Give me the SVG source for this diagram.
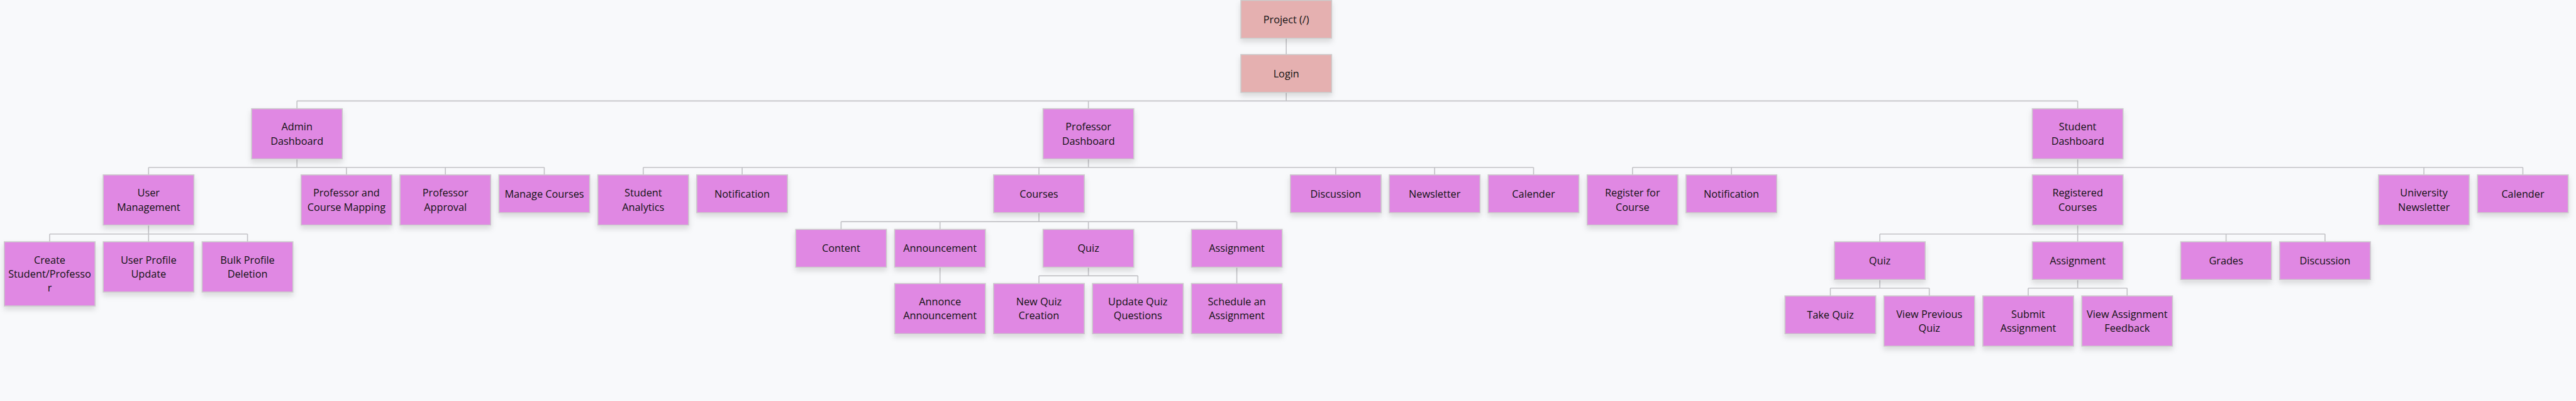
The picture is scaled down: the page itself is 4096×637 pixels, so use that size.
<svg xmlns="http://www.w3.org/2000/svg" width="4096" height="637" viewBox="0 0 4096 637">
<defs>
<filter id="sh" x="-20%" y="-20%" width="140%" height="160%">
<feDropShadow dx="0" dy="8" stdDeviation="7" flood-color="#000" flood-opacity="0.13"/>
</filter>
<style>
.n{fill:#e088e3;stroke:#cccccc;stroke-width:2.6;filter:url(#sh)}
.p{fill:#e5b0b0;stroke:#cccccc;stroke-width:2.6;filter:url(#sh)}
text{font-family:"Open Sans","Noto Sans","Liberation Sans",sans-serif;font-size:26.5px;fill:#111111;text-anchor:middle}
.c{fill:none;stroke:#c2c2c6;stroke-width:2.6}
</style>
</defs>
<rect width="4096" height="637" fill="#f8f9fb"/>
<g transform="scale(0.61446)">
<g id="connectors">
<path class="c" d="M3328.5 99V141M3328.5 239V261M768.5 261H5376.5M768.5 261V281M2816.5 261V281M5376.5 261V281
M768.5 411V433M384.5 433H1408.5M384.5 433V452M896.5 433V452M1152.5 433V452M1408.5 433V452
M2816.5 411V433M1664.5 433H3968.5M1664.5 433V452M1920.5 433V452M2688.5 433V452M3456.5 433V452M3712.5 433V452M3968.5 433V452
M5376.5 411V433M4224.5 433H6528.5M4224.5 433V452M4480.5 433V452M5376.5 433V452M6272.5 433V452M6528.5 433V452
M384.5 582V605M128.5 605H640.5M128.5 605V625M384.5 605V625M640.5 605V625
M2688.5 550V573M2176.5 573H3200.5M2176.5 573V593M2432.5 573V593M2816.5 573V593M3200.5 573V593
M2432.5 691V733M3200.5 691V733
M2816.5 691V713M2688.5 713H2944.5M2688.5 713V733M2944.5 713V733
M5376.5 582V605M4864.5 605H6016.5M4864.5 605V625M5376.5 605V625M5760.5 605V625M6016.5 605V625
M4864.5 723V745M4736.5 745H4992.5M4736.5 745V765M4992.5 745V765
M5376.5 723V745M5248.5 745H5504.5M5248.5 745V765M5504.5 745V765"/>
</g>
<g id="project"><rect class="p" x="3211" y="1" width="235" height="98"/><text x="3328.5" y="60">Project (/)</text></g>
<g id="login"><rect class="p" x="3211" y="141" width="235" height="98"/><text x="3328.5" y="200">Login</text></g>
<g id="admin-dashboard"><rect class="n" x="651" y="281" width="235" height="130"/><text x="768.5" y="337.5">Admin</text><text x="768.5" y="373.5">Dashboard</text></g>
<g id="professor-dashboard"><rect class="n" x="2699" y="281" width="235" height="130"/><text x="2816.5" y="337.5">Professor</text><text x="2816.5" y="373.5">Dashboard</text></g>
<g id="student-dashboard"><rect class="n" x="5259" y="281" width="235" height="130"/><text x="5376.5" y="337.5">Student</text><text x="5376.5" y="373.5">Dashboard</text></g>
<g id="user-management"><rect class="n" x="267" y="452" width="235" height="130"/><text x="384.5" y="508.5">User</text><text x="384.5" y="544.5">Management</text></g>
<g id="professor-course-mapping"><rect class="n" x="779" y="452" width="235" height="130"/><text x="896.5" y="508.5">Professor and</text><text x="896.5" y="544.5">Course Mapping</text></g>
<g id="professor-approval"><rect class="n" x="1035" y="452" width="235" height="130"/><text x="1152.5" y="508.5">Professor</text><text x="1152.5" y="544.5">Approval</text></g>
<g id="manage-courses"><rect class="n" x="1291" y="452" width="235" height="98"/><text x="1408.5" y="510.5">Manage Courses</text></g>
<g id="student-analytics"><rect class="n" x="1547" y="452" width="235" height="130"/><text x="1664.5" y="508.5">Student</text><text x="1664.5" y="544.5">Analytics</text></g>
<g id="prof-notification"><rect class="n" x="1803" y="452" width="235" height="98"/><text x="1920.5" y="510.5">Notification</text></g>
<g id="courses"><rect class="n" x="2571" y="452" width="235" height="98"/><text x="2688.5" y="510.5">Courses</text></g>
<g id="prof-discussion"><rect class="n" x="3339" y="452" width="235" height="98"/><text x="3456.5" y="510.5">Discussion</text></g>
<g id="prof-newsletter"><rect class="n" x="3595" y="452" width="235" height="98"/><text x="3712.5" y="510.5">Newsletter</text></g>
<g id="prof-calender"><rect class="n" x="3851" y="452" width="235" height="98"/><text x="3968.5" y="510.5">Calender</text></g>
<g id="register-course"><rect class="n" x="4107" y="452" width="235" height="130"/><text x="4224.5" y="508.5">Register for</text><text x="4224.5" y="544.5">Course</text></g>
<g id="stud-notification"><rect class="n" x="4363" y="452" width="235" height="98"/><text x="4480.5" y="510.5">Notification</text></g>
<g id="registered-courses"><rect class="n" x="5259" y="452" width="235" height="130"/><text x="5376.5" y="508.5">Registered</text><text x="5376.5" y="544.5">Courses</text></g>
<g id="university-newsletter"><rect class="n" x="6155" y="452" width="235" height="130"/><text x="6272.5" y="508.5">University</text><text x="6272.5" y="544.5">Newsletter</text></g>
<g id="stud-calender"><rect class="n" x="6411" y="452" width="235" height="98"/><text x="6528.5" y="510.5">Calender</text></g>
<g id="create-user"><rect class="n" x="11" y="625" width="235" height="166"/><text x="128.5" y="681.5">Create</text><text x="128.5" y="717.5">Student/Professo</text><text x="128.5" y="753.5">r</text></g>
<g id="user-profile-update"><rect class="n" x="267" y="625" width="235" height="130"/><text x="384.5" y="681.5">User Profile</text><text x="384.5" y="717.5">Update</text></g>
<g id="bulk-profile-deletion"><rect class="n" x="523" y="625" width="235" height="130"/><text x="640.5" y="681.5">Bulk Profile</text><text x="640.5" y="717.5">Deletion</text></g>
<g id="content"><rect class="n" x="2059" y="593" width="235" height="98"/><text x="2176.5" y="651.5">Content</text></g>
<g id="announcement"><rect class="n" x="2315" y="593" width="235" height="98"/><text x="2432.5" y="651.5">Announcement</text></g>
<g id="prof-quiz"><rect class="n" x="2699" y="593" width="235" height="98"/><text x="2816.5" y="651.5">Quiz</text></g>
<g id="prof-assignment"><rect class="n" x="3083" y="593" width="235" height="98"/><text x="3200.5" y="651.5">Assignment</text></g>
<g id="annonce-announcement"><rect class="n" x="2315" y="733" width="235" height="130"/><text x="2432.5" y="789.5">Annonce</text><text x="2432.5" y="825.5">Announcement</text></g>
<g id="new-quiz-creation"><rect class="n" x="2571" y="733" width="235" height="130"/><text x="2688.5" y="789.5">New Quiz</text><text x="2688.5" y="825.5">Creation</text></g>
<g id="update-quiz-questions"><rect class="n" x="2827" y="733" width="235" height="130"/><text x="2944.5" y="789.5">Update Quiz</text><text x="2944.5" y="825.5">Questions</text></g>
<g id="schedule-assignment"><rect class="n" x="3083" y="733" width="235" height="130"/><text x="3200.5" y="789.5">Schedule an</text><text x="3200.5" y="825.5">Assignment</text></g>
<g id="stud-quiz"><rect class="n" x="4747" y="625" width="235" height="98"/><text x="4864.5" y="683.5">Quiz</text></g>
<g id="stud-assignment"><rect class="n" x="5259" y="625" width="235" height="98"/><text x="5376.5" y="683.5">Assignment</text></g>
<g id="grades"><rect class="n" x="5643" y="625" width="235" height="98"/><text x="5760.5" y="683.5">Grades</text></g>
<g id="stud-discussion"><rect class="n" x="5899" y="625" width="235" height="98"/><text x="6016.5" y="683.5">Discussion</text></g>
<g id="take-quiz"><rect class="n" x="4619" y="765" width="235" height="98"/><text x="4736.5" y="823.5">Take Quiz</text></g>
<g id="view-previous-quiz"><rect class="n" x="4875" y="765" width="235" height="130"/><text x="4992.5" y="821.5">View Previous</text><text x="4992.5" y="857.5">Quiz</text></g>
<g id="submit-assignment"><rect class="n" x="5131" y="765" width="235" height="130"/><text x="5248.5" y="821.5">Submit</text><text x="5248.5" y="857.5">Assignment</text></g>
<g id="view-assignment-feedback"><rect class="n" x="5387" y="765" width="235" height="130"/><text x="5504.5" y="821.5">View Assignment</text><text x="5504.5" y="857.5">Feedback</text></g>
</g>
</svg>
